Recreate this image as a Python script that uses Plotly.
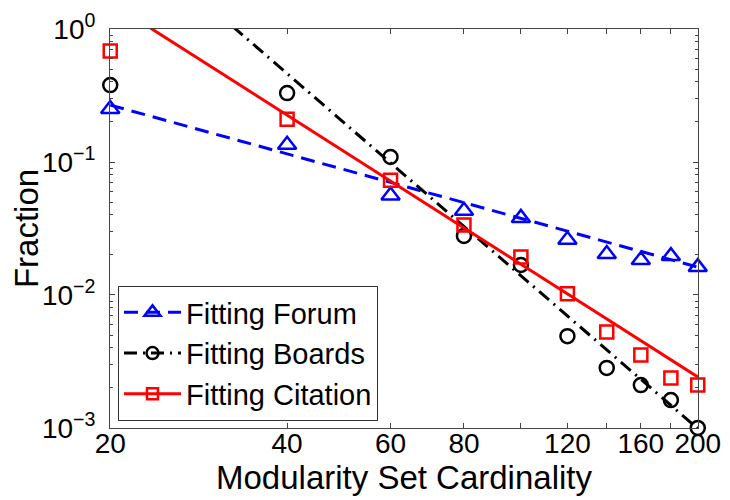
import math
import plotly.graph_objects as go

# ---- data ----
x_vals = [20, 40, 60, 80, 100, 120, 140, 160, 180, 200]
forum = [0.25, 0.135, 0.056, 0.043, 0.038, 0.026, 0.0203, 0.0183, 0.0196, 0.0162]
boards = [0.379, 0.33, 0.109, 0.0278, 0.0168, 0.0049, 0.00283, 0.0021, 0.00162, 0.001]
citation = [0.684, 0.21, 0.073, 0.0336, 0.0193, 0.0102, 0.00527, 0.00354, 0.00238, 0.0021]

# fitted power-law lines (end points)
fit_x = [20, 200]
fit_forum = [0.268, 0.0162]
fit_boards = [6.54, 0.00099]
fit_citation = [1.586, 0.00242]

x_tickvals = [20, 40, 60, 80, 100, 120, 140, 160, 180, 200]
x_ticktext = ["20", "40", "60", "80", "", "120", "", "160", "", "200"]
y_tickvals = [1, 0.1, 0.01, 0.001]
y_ticktext = ["10<sup>0</sup>", "10<sup>\u22121</sup>", "10<sup>\u22122</sup>", "10<sup>\u22123</sup>"]
series_names = ["Fitting Forum", "Fitting Boards", "Fitting Citation"]

FONT = "Liberation Sans, Arial, Helvetica, sans-serif"

styles = [
    dict(color="#0000ff", dash="14px,8px", symbol="triangle-up-open", size=16),
    dict(color="#000000", dash="13px,6px,2px,6px", symbol="circle-open", size=14),
    dict(color="#ff0000", dash="solid", symbol="square-open", size=13),
]
data_sets = [forum, boards, citation]
fit_sets = [fit_forum, fit_boards, fit_citation]

fig = go.Figure()
for name, st, d, f in zip(series_names, styles, data_sets, fit_sets):
    fig.add_trace(go.Scatter(
        x=fit_x, y=f, mode="lines",
        line=dict(color=st["color"], width=3, dash=st["dash"]),
        showlegend=False, hoverinfo="skip"))
    fig.add_trace(go.Scatter(
        x=x_vals, y=d, mode="markers", cliponaxis=False,
        marker=dict(symbol=st["symbol"], size=st["size"], color=st["color"],
                    line=dict(width=2.5, color=st["color"])),
        showlegend=False))
    # legend entry (line + marker, like MATLAB)
    fig.add_trace(go.Scatter(
        x=[None], y=[None], mode="lines+markers", name=name,
        line=dict(color=st["color"], width=3, dash=st["dash"]),
        marker=dict(symbol=st["symbol"], size=st["size"] - 2, color=st["color"],
                    line=dict(width=2.5, color=st["color"]))))

axis_common = dict(
    showline=True, linecolor="#444444", linewidth=1, mirror="ticks",
    ticks="inside", tickcolor="#444444", ticklen=5, tickwidth=1,
    showgrid=False, zeroline=False,
    tickfont=dict(family=FONT, size=28, color="black"),
)

minor_y = [m * 10 ** e for e in (-3, -2, -1) for m in range(2, 10)]
eps = 0.0004

fig.update_xaxes(
    type="log", range=[math.log10(20) - eps, math.log10(200) + eps],
    tickmode="array", tickvals=x_tickvals, ticktext=x_ticktext,
    ticklabelstandoff=-10,
    title=dict(text="Modularity Set Cardinality", font=dict(family=FONT, size=33, color="black"),
               standoff=4),
    **axis_common)
fig.update_yaxes(
    type="log", range=[-3 - eps, 0 + eps],
    tickmode="array", tickvals=y_tickvals, ticktext=y_ticktext,
    ticklabelstandoff=8,
    minor=dict(tickmode="array", tickvals=minor_y, ticks="inside", ticklen=3,
               tickcolor="#444444", showgrid=False),
    title=dict(text="Fraction", font=dict(family=FONT, size=33, color="black"), standoff=20),
    **axis_common)

# the page puts the figure 8px in from the top-left corner, so size it to fit
fig.update_layout(
    width=722, height=492,
    margin=dict(l=102, r=32, t=21, b=72, autoexpand=False),
    paper_bgcolor="white", plot_bgcolor="white",
    font=dict(family=FONT, color="black"),
    legend=dict(
        x=0.0136, y=0.0175, xanchor="left", yanchor="bottom",
        bgcolor="white", bordercolor="#333333", borderwidth=1,
        font=dict(family=FONT, size=29, color="black"),
        itemwidth=57, tracegroupgap=0,
    ),
)

fig.write_html("out.html")
